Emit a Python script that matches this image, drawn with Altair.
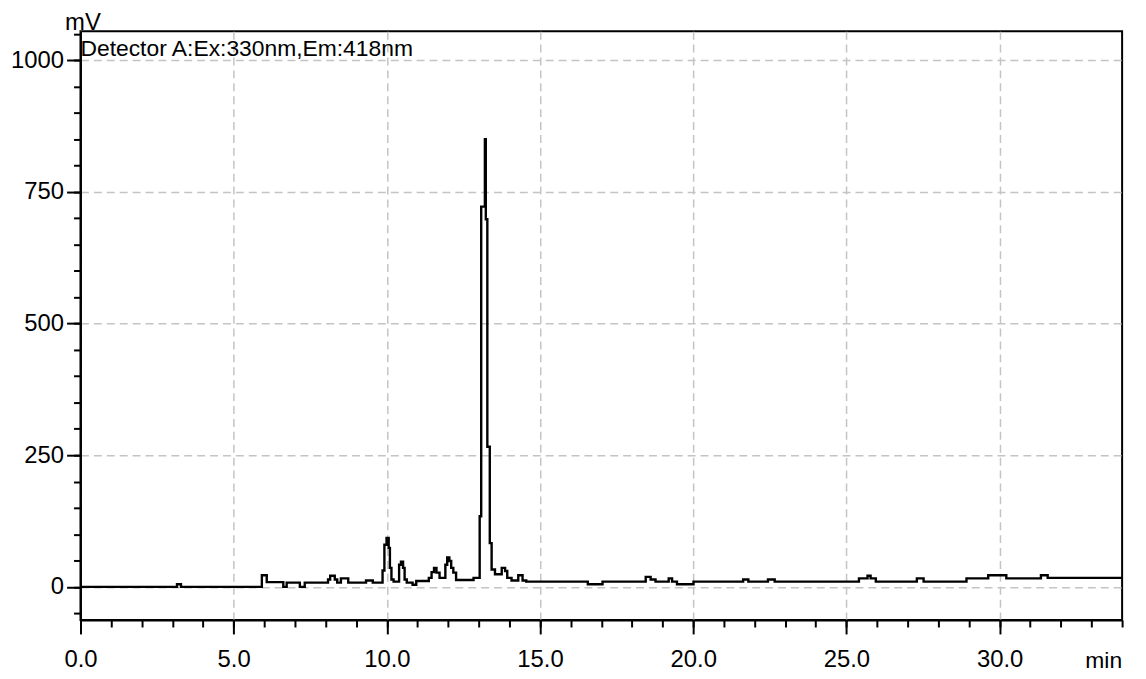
import altair as alt
import pandas as pd

# Chromatogram trace (step-like detector output)
times = [0.00, 3.15, 3.28, 5.92, 6.08, 6.62, 6.73, 7.16, 7.32, 8.08, 8.15, 8.30,
         8.38, 8.50, 8.74, 9.32, 9.54, 9.86, 9.92, 9.99, 10.06, 10.10, 10.15, 10.22,
         10.40, 10.46, 10.53, 10.58, 10.65, 10.84, 10.96, 11.37, 11.46, 11.54, 11.62,
         11.72, 11.91, 11.97, 12.04, 12.10, 12.17, 12.26, 12.83, 13.03, 13.08, 13.20,
         13.23, 13.28, 13.36, 13.42, 13.53, 13.75, 13.86, 13.93, 14.07, 14.29, 14.43,
         14.55, 16.56, 17.04, 18.45, 18.61, 18.77, 19.20, 19.31, 19.47, 20.01, 21.63,
         21.80, 22.44, 22.66, 25.41, 25.69, 25.79, 25.96, 27.30, 27.52, 28.92, 29.63,
         30.22, 31.35, 31.57, 34.00]
signal = [0, 5, 0, 22, 9, 0, 8, 0, 8, 14, 21, 14,
          8, 16, 8, 12, 8, 31, 80, 93, 74, 36, 14, 10,
          42, 48, 36, 14, 8, 4, 11, 17, 28, 36, 27,
          17, 42, 56, 49, 36, 27, 13, 17, 134, 722, 850,
          698, 266, 83, 33, 24, 36, 30, 17, 12, 22, 12,
          10, 5, 10, 19, 14, 10, 16, 10, 5, 10, 14,
          10, 14, 10, 16, 21, 16, 10, 16, 10, 16, 22,
          16, 22, 17, 17]

x_major = [0, 5, 10, 15, 20, 25, 30]
x_minor = list(range(0, 35))
y_major = [0, 250, 500, 750, 1000]
y_minor = list(range(-50, 1051, 50))
detector_label = ["Detector A:Ex:330nm,Em:418nm"]

FONT = "Liberation Sans"

df = pd.DataFrame({"t": times, "mV": signal})

xscale = alt.Scale(domain=[0, 34], nice=False, zero=False)
yscale = alt.Scale(domain=[-63, 1055], nice=False, zero=False)

grid_kw = dict(grid=True, gridDash=[8, 5], gridColor="#c4c4c4", gridWidth=1.5)

main = alt.Chart(df).mark_line(
    interpolate="step-after", color="black", strokeWidth=2.4
).encode(
    x=alt.X("t:Q", scale=xscale, axis=alt.Axis(
        orient="bottom", values=x_major, format=".1f", tickSize=14, tickWidth=2,
        tickColor="black", domainColor="black", domainWidth=2,
        labelFont=FONT, labelFontSize=24, labelColor="black", labelPadding=14,
        labelFlush=False, labelOverlap=False,
        title="min", titleFont=FONT, titleFontSize=23, titleFontWeight="normal",
        titleColor="black", titleX=1030, titleY=48, titleAlign="center",
        titleBaseline="alphabetic", **grid_kw)),
    y=alt.Y("mV:Q", scale=yscale, axis=alt.Axis(
        orient="left", values=y_major, format="d", tickSize=14, tickWidth=2,
        tickColor="black", domainColor="black", domainWidth=2,
        labelFont=FONT, labelFontSize=24, labelColor="black", labelPadding=3,
        labelFlush=False, labelOverlap=False,
        title="mV", titleFont=FONT, titleFontSize=24, titleFontWeight="normal",
        titleColor="black", titleAngle=0, titleX=2, titleY=-2, titleAlign="center",
        titleBaseline="alphabetic", **grid_kw)),
)

minor = alt.Chart(df).mark_line(strokeOpacity=0).encode(
    x=alt.X("t:Q", scale=xscale, axis=alt.Axis(
        orient="bottom", values=x_minor, tickSize=7, tickWidth=2, tickColor="black",
        labels=False, domain=False, grid=False, title=None)),
    y=alt.Y("mV:Q", scale=yscale, axis=alt.Axis(
        orient="left", values=y_minor, tickSize=7, tickWidth=2, tickColor="black",
        labels=False, domain=False, grid=False, title=None)),
)

label = alt.Chart(pd.DataFrame({"label": detector_label})).mark_text(
    align="left", baseline="alphabetic", font=FONT, fontSize=23, color="black"
).encode(text="label:N", x=alt.value(0), y=alt.value(25))

chart = alt.layer(main, minor, label).resolve_axis(
    x="independent", y="independent"
).properties(
    width=1049, height=593,
    autosize=alt.AutoSizeParams(type="none"),
    padding={"left": 73, "top": 21, "right": 16, "bottom": 56},
    background="white",
).configure_view(stroke="black", strokeWidth=2)

chart.save("out.html", embed_options={"renderer": "svg", "actions": False})
